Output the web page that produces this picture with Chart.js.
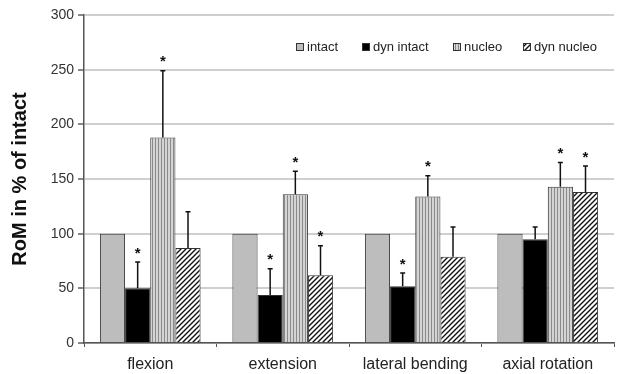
<!DOCTYPE html>
<html>
<head>
<meta charset="utf-8">
<script src="https://cdn.jsdelivr.net/npm/chart.js@4"></script>
<style>
  html, body { margin: 0; padding: 0; background: #fff; }
  #wrap { width: 625px; height: 374px; }
</style>
</head>
<body>
<div id="wrap"><canvas id="chart" width="625" height="374"></canvas></div>
<script>
const categories = ['flexion', 'extension', 'lateral bending', 'axial rotation']
const seriesNames = ['intact', 'dyn intact', 'nucleo', 'dyn nucleo']
const intact = [100, 100, 100, 100]
const dynIntact = [50, 44, 52, 95]
const nucleo = [188, 136, 134, 143]
const dynNucleo = [87, 62, 79, 138]
// upper error bar (SD), null = none
const intactSd = [null, null, null, null]
const dynIntactSd = [24, 24, 12, 11]
const nucleoSd = [61, 21, 19, 22]
const dynNucleoSd = [33, 27, 27, 24]
// significance stars
const intactSig = [false, false, false, false]
const dynIntactSig = [true, true, true, false]
const nucleoSig = [true, true, true, true]
const dynNucleoSig = [false, true, false, true]
const yTicks = [0, 50, 100, 150, 200, 250, 300]

const ctx = document.getElementById('chart')

const makePattern = (w, h, draw) => {
    const c = document.createElement('canvas')
    c.width = w
    c.height = h
    const g = c.getContext('2d')
    draw(g)
    return ctx.getContext('2d').createPattern(c, 'repeat')
}

const stripes = makePattern(3, 4, g => {
    g.fillStyle = '#d4d4d4'
    g.fillRect(0, 0, 3, 4)
    g.fillStyle = '#8a8a8a'
    g.fillRect(2, 0, 1, 4)
})

const hatch = makePattern(5, 5, g => {
    g.fillStyle = '#fff'
    g.fillRect(0, 0, 5, 5)
    g.strokeStyle = '#111'
    g.lineWidth = 1.4
    g.beginPath()
    g.moveTo(-1, 6); g.lineTo(6, -1)
    g.moveTo(-1, 1); g.lineTo(1, -1)
    g.moveTo(4, 6); g.lineTo(6, 4)
    g.stroke()
})

const fills = ['#bdbdbd', '#000', stripes, hatch]
const values = [intact, dynIntact, nucleo, dynNucleo]
const sds = [intactSd, dynIntactSd, nucleoSd, dynNucleoSd]
const sigs = [intactSig, dynIntactSig, nucleoSig, dynNucleoSig]

const errorBars = {
    id: 'errorBars',
    afterDatasetsDraw(chart) {
        const g = chart.ctx
        const y = chart.scales.y
        g.save()
        chart.data.datasets.forEach((ds, i) => {
            const meta = chart.getDatasetMeta(i)
            meta.data.forEach((bar, j) => {
                const sd = sds[i][j]
                let top = bar.y
                if (sd != null) {
                    top = y.getPixelForValue(values[i][j] + sd)
                    g.strokeStyle = '#111'
                    g.lineWidth = 1.5
                    g.beginPath()
                    g.moveTo(bar.x, bar.y)
                    g.lineTo(bar.x, top)
                    g.moveTo(bar.x - 2.5, top)
                    g.lineTo(bar.x + 2.5, top)
                    g.stroke()
                }
                if (sigs[i][j]) {
                    g.fillStyle = '#111'
                    g.font = 'bold 15px "Liberation Sans", Arial'
                    g.textAlign = 'center'
                    g.textBaseline = 'top'
                    g.fillText('*', bar.x, top - 16)
                }
            })
        })
        g.restore()
    }
}

const innerLegend = {
    id: 'innerLegend',
    afterDraw(chart) {
        const g = chart.ctx
        const xs = [296, 362, 453, 523]
        const yc = 47
        g.save()
        g.font = '13px "Liberation Sans", Arial'
        g.textBaseline = 'middle'
        g.textAlign = 'left'
        seriesNames.forEach((name, i) => {
            g.fillStyle = '#fff'
            g.fillRect(xs[i], yc - 4, 8, 8)
            g.fillStyle = fills[i]
            g.fillRect(xs[i], yc - 4, 8, 8)
            g.strokeStyle = '#333'
            g.lineWidth = 1
            g.strokeRect(xs[i] + 0.5, yc - 3.5, 7, 7)
            g.fillStyle = '#222'
            g.fillText(name, xs[i] + 11, yc)
        })
        g.restore()
    }
}

new Chart(ctx, {
    type: 'bar',
    data: {
        labels: categories,
        datasets: seriesNames.map((name, i) => ({
            label: name,
            data: values[i],
            backgroundColor: fills[i],
            borderColor: '#333',
            borderWidth: 1,
            categoryPercentage: 0.76,
            barPercentage: 1.0
        }))
    },
    options: {
        responsive: false,
        animation: false,
        layout: { padding: { top: 15, right: 11, left: 0, bottom: 0 } },
        plugins: {
            legend: { display: false },
            tooltip: { enabled: false }
        },
        scales: {
            x: {
                grid: { display: true, drawOnChartArea: false, offset: true, tickLength: 4, color: '#555' },
                border: { color: '#555', width: 1.5 },
                ticks: { color: '#222', font: { family: '"Liberation Sans", Arial', size: 16 }, padding: 8 },
                afterFit: s => { s.height = 31 }
            },
            y: {
                min: 0,
                max: 300,
                afterBuildTicks: s => { s.ticks = yTicks.map(v => ({ value: v })) },
                grid: { color: '#cfcfcf', lineWidth: 2, tickLength: 6, tickColor: '#888' },
                border: { color: '#555', width: 1.5 },
                ticks: { color: '#333', font: { family: '"Liberation Sans", Arial', size: 14 }, padding: 4 },
                title: {
                    display: true,
                    text: 'RoM in % of intact',
                    color: '#111',
                    font: { family: '"Liberation Sans", Arial', size: 20, weight: 'bold' },
                    padding: { top: 8, bottom: 6 }
                },
                afterFit: s => { s.width = 84 }
            }
        }
    },
    plugins: [errorBars, innerLegend]
})
</script>
</body>
</html>
